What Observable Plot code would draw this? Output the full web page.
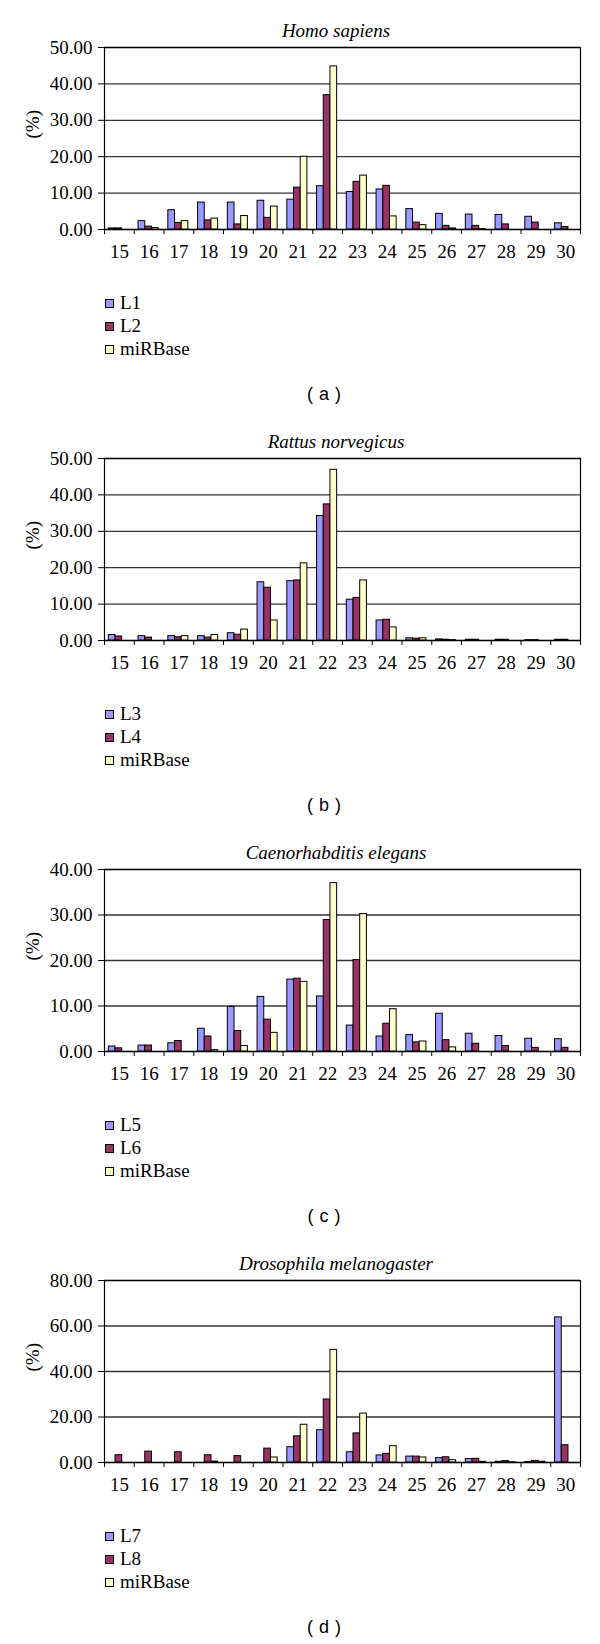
<!DOCTYPE html>
<html><head><meta charset="utf-8">
<script src="https://cdn.jsdelivr.net/npm/d3@7"></script>
<script src="https://cdn.jsdelivr.net/npm/@observablehq/plot@0.6"></script>
<style>
body{margin:0;background:#fff;}
#page{position:relative;width:600px;height:1644px;overflow:hidden;font-family:"Liberation Serif","Times New Roman",serif;color:#000;}
.panel{position:absolute;left:0;width:600px;height:411px;}
.panel svg{position:absolute;left:0;top:0;}
.title{position:absolute;left:186px;width:300px;text-align:center;top:20.5px;font-style:italic;font-size:19px;line-height:19px;white-space:nowrap;}
.leg{position:absolute;left:105px;font-size:19px;line-height:19px;white-space:nowrap;}
.leg span.sw{display:inline-block;width:7px;height:7px;border:1px solid #000;margin-right:6px;vertical-align:1px;}
.cap{position:absolute;left:274px;width:100px;text-align:center;top:384px;font-family:"Liberation Sans",Arial,sans-serif;font-size:18px;line-height:20px;word-spacing:1px;}
</style></head><body><div id="page"></div>
<script>
const lengths = [15,16,17,18,19,20,21,22,23,24,25,26,27,28,29,30];

const homoL1  = [0.3,2.3,5.3,7.4,7.4,7.9,8.2,11.9,10.3,11.0,5.6,4.3,4.1,4.0,3.5,1.7];
const homoL2  = [0.3,0.8,1.8,2.5,1.4,3.2,11.5,36.9,13.1,12.0,1.9,1.0,1.0,1.4,1.9,0.7];
const homoMir = [0,0.4,2.3,3.0,3.7,6.3,20.0,44.8,14.8,3.6,1.2,0.3,0.1,0,0,0];

const ratL3  = [1.5,1.2,1.2,1.2,2.0,16.0,16.3,34.2,11.2,5.5,0.6,0.3,0.2,0.2,0.1,0.2];
const ratL4  = [1.1,0.8,0.9,0.8,1.6,14.5,16.5,37.4,11.7,5.7,0.5,0.2,0.2,0.2,0.1,0.2];
const ratMir = [0,0,1.2,1.5,3.0,5.5,21.2,46.9,16.5,3.6,0.6,0.1,0,0,0,0];

const celL5  = [1.1,1.3,1.8,5.0,9.8,12.0,15.8,12.1,5.7,3.3,3.6,8.3,3.9,3.4,2.8,2.7];
const celL6  = [0.7,1.3,2.3,3.3,4.5,7.0,16.0,28.9,20.1,6.1,2.0,2.5,1.7,1.2,0.8,0.8];
const celMir = [0,0,0,0.3,1.2,4.1,15.3,37.0,30.2,9.3,2.2,0.9,0,0,0,0];

const droL7  = [0,0,0,0,0,0,6.7,14.2,4.5,3.1,2.6,1.9,1.5,0.3,0.2,63.8];
const droL8  = [3.2,4.8,4.5,3.2,2.8,6.1,11.5,27.7,12.8,3.8,2.6,2.3,1.6,0.6,0.7,7.6];
const droMir = [0,0,0,0.4,0,2.2,16.6,49.5,21.5,7.2,2.2,1.0,0.3,0.1,0.3,0];

const seriesColors = ["#9999FF","#993366","#FFFFCC"];

const panels = [
  {title:"Homo sapiens", caption:"( a )", max:50, ticks:[0,10,20,30,40,50],
   series:[["L1",homoL1],["L2",homoL2],["miRBase",homoMir]]},
  {title:"Rattus norvegicus", caption:"( b )", max:50, ticks:[0,10,20,30,40,50],
   series:[["L3",ratL3],["L4",ratL4],["miRBase",ratMir]]},
  {title:"Caenorhabditis elegans", caption:"( c )", max:40, ticks:[0,10,20,30,40],
   series:[["L5",celL5],["L6",celL6],["miRBase",celMir]]},
  {title:"Drosophila melanogaster", caption:"( d )", max:80, ticks:[0,20,40,60,80],
   series:[["L7",droL7],["L8",droL8],["miRBase",droMir]]}
];

const page = document.getElementById("page");
const barW = 0.225, start = -0.355;

panels.forEach((p, k) => {
  const div = document.createElement("div");
  div.className = "panel";
  div.style.top = (k * 411) + "px";
  page.appendChild(div);

  const names = p.series.map(s => s[0]);
  const rows = [];
  p.series.forEach(([name, vals], i) => {
    vals.forEach((v, j) => rows.push({len: lengths[j], series: name, i, v}));
  });
  const bounds = lengths.map(l => l - 0.5).concat([lengths[lengths.length - 1] + 0.5]);

  const chart = Plot.plot({
    width: 600, height: 270,
    marginTop: 47, marginBottom: 41, marginLeft: 104, marginRight: 20,
    style: {fontFamily: "'Liberation Serif', serif", fontSize: "19px", background: "transparent", color: "#000"},
    x: {domain: [bounds[0], bounds[bounds.length - 1]]},
    y: {domain: [0, p.max]},
    color: {domain: names, range: seriesColors},
    marks: [
      Plot.gridY({ticks: p.ticks, stroke: "#333", strokeOpacity: 1, strokeWidth: 1.3}),
      Plot.rect(rows.filter(d => d.v > 0), {
        x1: d => d.len + start + d.i * barW,
        x2: d => d.len + start + (d.i + 1) * barW,
        y1: 0, y2: "v", fill: "series", stroke: "#000", strokeWidth: 1
      }),
      Plot.frame({stroke: "#000", strokeWidth: 1.2}),
      Plot.axisY({ticks: p.ticks, tickFormat: d3.format(".2f"), tickSize: 6, tickPadding: 6, label: null}),
      Plot.axisX({ticks: bounds, tickSize: 5, tickFormat: () => "", label: null}),
      Plot.axisX({ticks: lengths, tickSize: 0, tickPadding: 15, tickFormat: d => String(d), label: null}),
      Plot.text(["(%)"], {text: d => d, frameAnchor: "left", dx: -72, rotate: -90, fontSize: 19})
    ]
  });
  div.appendChild(chart);

  const t = document.createElement("div");
  t.className = "title";
  t.textContent = p.title;
  div.appendChild(t);

  names.forEach((n, i) => {
    const l = document.createElement("div");
    l.className = "leg";
    l.style.top = (302 + i * 23 - 9.5) + "px";
    const sw = document.createElement("span");
    sw.className = "sw";
    sw.style.background = seriesColors[i];
    l.appendChild(sw);
    l.appendChild(document.createTextNode(n));
    div.appendChild(l);
  });

  const c = document.createElement("div");
  c.className = "cap";
  c.textContent = p.caption;
  div.appendChild(c);
});
</script>
</body></html>
